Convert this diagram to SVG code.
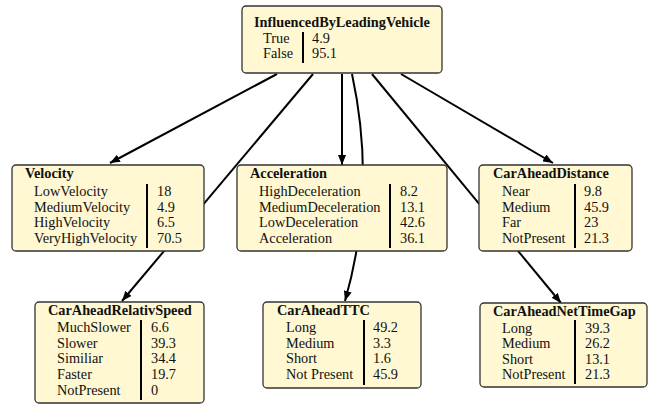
<svg xmlns="http://www.w3.org/2000/svg" width="649" height="405" viewBox="0 0 649 405">
<style>
.box{fill:#fff8d2;stroke:#333;stroke-width:1.3}
.t{font-family:"Liberation Serif","Times New Roman",serif;font-size:14.3px;fill:#111}
.b{font-weight:bold}
.sep{stroke:#000;stroke-width:2}
.e{fill:none;stroke:#000;stroke-width:2}
</style>
<defs>
<marker id="ah" markerWidth="10" markerHeight="8" refX="10" refY="4" orient="auto" markerUnits="userSpaceOnUse">
<path d="M0,0 L10,4 L0,8 z" fill="#000"/>
</marker>
</defs>
<rect width="649" height="405" fill="#fff"/>
<g id="edges">
<path class="e" d="M277,74 L110,163" marker-end="url(#ah)"/>
<path class="e" d="M313,74 L122,301" marker-end="url(#ah)"/>
<path class="e" d="M342,74 L342,165" marker-end="url(#ah)"/>
<path class="e" d="M352,74 Q377,190 345,301" marker-end="url(#ah)"/>
<path class="e" d="M372,74 L561,303" marker-end="url(#ah)"/>
<path class="e" d="M401,74 L553,163" marker-end="url(#ah)"/>
</g>
<g id="root">
<rect class="box" x="242" y="6" width="200" height="67" rx="4"/>
<text class="t b" x="254" y="27">InfluencedByLeadingVehicle</text>
<text class="t" x="263" y="43">True</text>
<text class="t" x="263" y="58">False</text>
<line class="sep" x1="303" y1="32" x2="303" y2="63"/>
<text class="t" x="312" y="43">4.9</text>
<text class="t" x="312" y="58">95.1</text>
</g>
<g id="velocity">
<rect class="box" x="12" y="165" width="192" height="86" rx="4"/>
<text class="t b" x="25" y="178">Velocity</text>
<text class="t" x="34" y="196">LowVelocity</text>
<text class="t" x="34" y="211.7">MediumVelocity</text>
<text class="t" x="34" y="227.3">HighVelocity</text>
<text class="t" x="34" y="243">VeryHighVelocity</text>
<line class="sep" x1="147" y1="184" x2="147" y2="248"/>
<text class="t" x="157" y="196">18</text>
<text class="t" x="157" y="211.7">4.9</text>
<text class="t" x="157" y="227.3">6.5</text>
<text class="t" x="157" y="243">70.5</text>
</g>
<g id="acceleration">
<rect class="box" x="237" y="165" width="210" height="86" rx="4"/>
<text class="t b" x="250" y="178">Acceleration</text>
<text class="t" x="259" y="196">HighDeceleration</text>
<text class="t" x="259" y="211.7">MediumDeceleration</text>
<text class="t" x="259" y="227.3">LowDeceleration</text>
<text class="t" x="259" y="243">Acceleration</text>
<line class="sep" x1="390" y1="184" x2="390" y2="248"/>
<text class="t" x="400" y="196">8.2</text>
<text class="t" x="400" y="211.7">13.1</text>
<text class="t" x="400" y="227.3">42.6</text>
<text class="t" x="400" y="243">36.1</text>
</g>
<g id="caraheaddistance">
<rect class="box" x="479" y="165" width="153" height="86" rx="4"/>
<text class="t b" x="493" y="178">CarAheadDistance</text>
<text class="t" x="502" y="196">Near</text>
<text class="t" x="502" y="211.7">Medium</text>
<text class="t" x="502" y="227.3">Far</text>
<text class="t" x="502" y="243">NotPresent</text>
<line class="sep" x1="575" y1="184" x2="575" y2="248"/>
<text class="t" x="584" y="196">9.8</text>
<text class="t" x="584" y="211.7">45.9</text>
<text class="t" x="584" y="227.3">23</text>
<text class="t" x="584" y="243">21.3</text>
</g>
<g id="caraheadrelativspeed">
<rect class="box" x="35" y="302" width="169" height="101" rx="4"/>
<text class="t b" x="48" y="315">CarAheadRelativSpeed</text>
<text class="t" x="57" y="332">MuchSlower</text>
<text class="t" x="57" y="347.7">Slower</text>
<text class="t" x="57" y="363.4">Similiar</text>
<text class="t" x="57" y="379.1">Faster</text>
<text class="t" x="57" y="394.8">NotPresent</text>
<line class="sep" x1="141" y1="320" x2="141" y2="400"/>
<text class="t" x="151" y="332">6.6</text>
<text class="t" x="151" y="347.7">39.3</text>
<text class="t" x="151" y="363.4">34.4</text>
<text class="t" x="151" y="379.1">19.7</text>
<text class="t" x="151" y="394.8">0</text>
</g>
<g id="caraheadttc">
<rect class="box" x="263" y="302" width="158" height="86" rx="4"/>
<text class="t b" x="277" y="315">CarAheadTTC</text>
<text class="t" x="286" y="332">Long</text>
<text class="t" x="286" y="347.7">Medium</text>
<text class="t" x="286" y="363.4">Short</text>
<text class="t" x="286" y="379.1">Not Present</text>
<line class="sep" x1="364" y1="320" x2="364" y2="385"/>
<text class="t" x="373" y="332">49.2</text>
<text class="t" x="373" y="347.7">3.3</text>
<text class="t" x="373" y="363.4">1.6</text>
<text class="t" x="373" y="379.1">45.9</text>
</g>
<g id="caraheadnettimegap">
<rect class="box" x="480" y="303" width="167" height="84" rx="4"/>
<text class="t b" x="493" y="316">CarAheadNetTimeGap</text>
<text class="t" x="502" y="332.5">Long</text>
<text class="t" x="502" y="348">Medium</text>
<text class="t" x="502" y="363.5">Short</text>
<text class="t" x="502" y="379">NotPresent</text>
<line class="sep" x1="575" y1="320" x2="575" y2="384"/>
<text class="t" x="585" y="332.5">39.3</text>
<text class="t" x="585" y="348">26.2</text>
<text class="t" x="585" y="363.5">13.1</text>
<text class="t" x="585" y="379">21.3</text>
</g>
</svg>
